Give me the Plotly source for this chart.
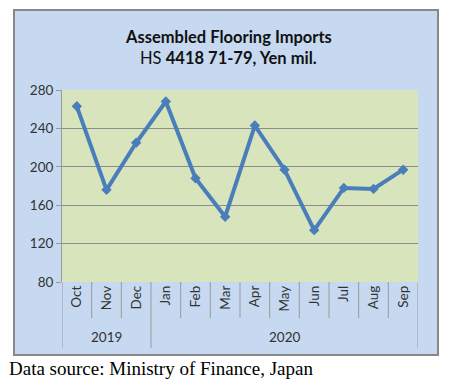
import plotly.graph_objects as go

months = ["Oct", "Nov", "Dec", "Jan", "Feb", "Mar", "Apr", "May", "Jun", "Jul", "Aug", "Sep"]
years = ["2019", "2020"]
year_spans = [(0, 2), (3, 11)]
values = [263, 176, 225, 268, 188, 148, 243, 197, 134, 178, 177, 197]
y_ticks = [80, 120, 160, 200, 240, 280]

O = 8  # page body margin offset
W, H = 455 - O, 385 - O
L, R, T, B = 62 - O, 418 - O, 90 - O, 282 - O
ph = B - T
pw = R - L

def py(pix):
    return (B - (pix - O)) / ph

def px(pix):
    return ((pix - O) - L) / pw

FONT = "Lato, Open Sans, sans-serif"
xs = list(range(len(months)))
fig = go.Figure()
fig.add_trace(go.Scatter(
    x=xs, y=values, mode="lines+markers",
    line=dict(color="#4A7EBB", width=4),
    marker=dict(symbol="diamond", size=8, color="#4A7EBB"),
    showlegend=False, hoverinfo="skip"))

shapes = []
shapes.append(dict(type="rect", xref="paper", yref="paper",
                   x0=px(14), x1=px(438), y0=py(355), y1=py(10),
                   fillcolor="#C6D9F1", line=dict(color="#888888", width=2), layer="below"))
shapes.append(dict(type="rect", xref="paper", yref="paper",
                   x0=0, x1=1, y0=0, y1=1,
                   fillcolor="#D8E4BC", line=dict(width=0), layer="below"))
for i in range(len(months) + 1):
    xv = i - 0.5
    is_year = i in (0, 3, len(months))
    shapes.append(dict(type="line", xref="x", yref="paper", x0=xv, x1=xv,
                       y0=0, y1=py(348 if is_year else 318),
                       line=dict(color="#9A9A9A", width=1)))

annotations = []
for yr, (a, b) in zip(years, year_spans):
    annotations.append(dict(x=(a + b) / 2, y=py(337), xref="x", yref="paper",
                            xanchor="center", yanchor="middle",
                            text=yr, showarrow=False,
                            font=dict(family=FONT, size=13.5, color="#333333")))
annotations.append(dict(x=px(228), y=py(37), xref="paper", yref="paper",
                        xanchor="center", yanchor="middle",
                        text="<b>Assembled Flooring Imports</b>", showarrow=False,
                        font=dict(family=FONT, size=16.5, color="#111111")))
annotations.append(dict(x=px(228), y=py(58), xref="paper", yref="paper",
                        xanchor="center", yanchor="middle",
                        text="HS <b>4418 71-79, Yen mil.</b>", showarrow=False,
                        font=dict(family=FONT, size=16.5, color="#111111")))
annotations.append(dict(x=px(7), y=py(368), xref="paper", yref="paper",
                        xanchor="left", yanchor="middle",
                        text="Data source: Ministry of Finance, Japan", showarrow=False,
                        font=dict(family="Liberation Serif, Times New Roman, serif", size=19, color="#000000")))

fig.update_layout(
    width=W, height=H,
    margin=dict(l=L, r=W - R, t=T, b=H - B, pad=0),
    paper_bgcolor="white",
    plot_bgcolor="#D8E4BC",
    shapes=shapes,
    annotations=annotations,
    xaxis=dict(range=[-0.5, len(months) - 0.5], tickmode="array", tickvals=xs, ticktext=months,
               tickangle=-90, showgrid=False, zeroline=False, showline=False, ticks="",
               tickfont=dict(family=FONT, size=13.5, color="#333333")),
    yaxis=dict(range=[80, 280], tickmode="array", tickvals=y_ticks,
               showgrid=True, gridcolor="#8C8C8C", gridwidth=1, zeroline=False,
               showline=True, linecolor="#9A9A9A", ticks="outside", ticklen=5, tickcolor="#9A9A9A",
               tickfont=dict(family=FONT, size=13.5, color="#333333")),
)

fig.write_html("out.html")
